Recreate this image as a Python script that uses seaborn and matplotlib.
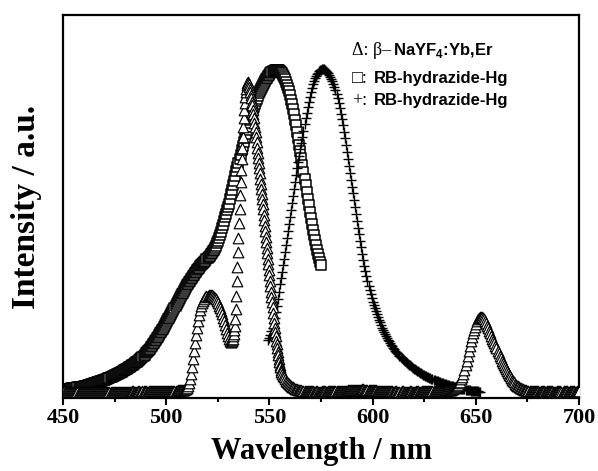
"""Upconversion emission / absorption / emission overlap plot."""
import numpy as np
import pandas as pd
import matplotlib
matplotlib.use("Agg")
import matplotlib.pyplot as plt
import seaborn as sns

# ---- data (normalised intensity) ----
# beta-NaYF4:Yb,Er upconversion emission (triangles)
tri_nm = np.concatenate([np.arange(450, 531.01, 0.5), np.arange(531.25, 556.01, 0.25),
                         np.arange(556.5, 700.01, 0.5)])
tri_val = [
    0.005, 0.005, 0.004, 0.004, 0.004, 0.003, 0.003, 0.004, 0.004, 0.003,  # 450
    0.003, 0.003, 0.003, 0.004, 0.004, 0.004, 0.003, 0.003, 0.003, 0.003,  # 455
    0.003, 0.004, 0.004, 0.003, 0.003, 0.003, 0.003, 0.004, 0.004, 0.003,  # 460
    0.003, 0.003, 0.003, 0.004, 0.004, 0.004, 0.004, 0.003, 0.003, 0.003,  # 465
    0.003, 0.004, 0.004, 0.003, 0.003, 0.004, 0.004, 0.004, 0.004, 0.003,  # 470
    0.003, 0.003, 0.003, 0.004, 0.004, 0.003, 0.003, 0.004, 0.004, 0.004,  # 475
    0.004, 0.003, 0.003, 0.004, 0.004, 0.004, 0.004, 0.005, 0.005, 0.004,  # 480
    0.004, 0.004, 0.004, 0.005, 0.005, 0.004, 0.004, 0.005, 0.005, 0.005,  # 485
    0.005, 0.004, 0.004, 0.005, 0.005, 0.005, 0.005, 0.006, 0.006, 0.005,  # 490
    0.005, 0.005, 0.005, 0.006, 0.006, 0.006, 0.006, 0.005, 0.005, 0.006,  # 495
    0.006, 0.006, 0.006, 0.007, 0.007, 0.006, 0.006, 0.007, 0.007, 0.007,  # 500
    0.007, 0.008, 0.008, 0.008, 0.008, 0.009, 0.009, 0.01, 0.011, 0.013,  # 505
    0.015, 0.021, 0.03, 0.043, 0.06, 0.081, 0.105, 0.13, 0.155, 0.178,  # 510
    0.2, 0.221, 0.24, 0.255, 0.268, 0.277, 0.285, 0.29, 0.295, 0.298,  # 515
    0.3, 0.302, 0.304, 0.303, 0.302, 0.3, 0.297, 0.293, 0.289, 0.283,  # 520
    0.277, 0.27, 0.262, 0.253, 0.244, 0.233, 0.222, 0.21, 0.198, 0.186,  # 525
    0.175, 0.167, 0.16,  # 530
    0.157, 0.157, 0.159, 0.163, 0.168, 0.175, 0.183, 0.193, 0.207, 0.228,  # 531.25
    0.26, 0.3, 0.345, 0.39, 0.435, 0.48, 0.525, 0.568, 0.61, 0.65,  # 533.75
    0.688, 0.724, 0.758, 0.79, 0.82, 0.848, 0.873, 0.895, 0.913, 0.928,  # 536.25
    0.94, 0.95, 0.956, 0.96, 0.958, 0.953, 0.946, 0.938, 0.93, 0.92,  # 538.75
    0.91, 0.9, 0.888, 0.875, 0.862, 0.848, 0.834, 0.82, 0.805, 0.79,  # 541.25
    0.774, 0.758, 0.742, 0.726, 0.71, 0.694, 0.678, 0.662, 0.646, 0.63,  # 543.75
    0.615, 0.6, 0.584, 0.568, 0.551, 0.534, 0.517, 0.5, 0.483, 0.466,  # 546.25
    0.449, 0.432, 0.415, 0.398, 0.381, 0.364, 0.347, 0.33, 0.313, 0.296,  # 548.75
    0.28, 0.264, 0.248, 0.232, 0.217, 0.202, 0.188, 0.175, 0.162, 0.15,  # 551.25
    0.138, 0.127, 0.116, 0.106, 0.096, 0.087, 0.079, 0.071, 0.064, 0.058,  # 553.75
    0.052, 0.048, 0.043, 0.038, 0.034, 0.03, 0.027, 0.024, 0.021, 0.019,  # 556.5
    0.017, 0.015, 0.013, 0.012, 0.011, 0.01, 0.009, 0.008, 0.008, 0.007,  # 561.5
    0.007, 0.006, 0.006, 0.006, 0.005, 0.005, 0.005, 0.005, 0.005, 0.005,  # 566.5
    0.004, 0.004, 0.005, 0.005, 0.004, 0.004, 0.004, 0.004, 0.005, 0.005,  # 571.5
    0.005, 0.005, 0.004, 0.004, 0.005, 0.005, 0.005, 0.005, 0.006, 0.006,  # 576.5
    0.005, 0.005, 0.005, 0.005, 0.006, 0.006, 0.006, 0.006, 0.006, 0.007,  # 581.5
    0.007, 0.007, 0.007, 0.008, 0.008, 0.008, 0.008, 0.009, 0.009, 0.009,  # 586.5
    0.009, 0.01, 0.01, 0.01, 0.01, 0.01, 0.01, 0.011, 0.011, 0.01,  # 591.5
    0.01, 0.01, 0.01, 0.009, 0.009, 0.009, 0.009, 0.008, 0.008, 0.008,  # 596.5
    0.008, 0.007, 0.007, 0.007, 0.007, 0.006, 0.006, 0.006, 0.006, 0.006,  # 601.5
    0.006, 0.005, 0.005, 0.005, 0.005, 0.005, 0.005, 0.004, 0.004, 0.005,  # 606.5
    0.005, 0.004, 0.004, 0.004, 0.004, 0.005, 0.005, 0.004, 0.004, 0.004,  # 611.5
    0.004, 0.004, 0.004, 0.005, 0.005, 0.004, 0.004, 0.004, 0.004, 0.005,  # 616.5
    0.005, 0.005, 0.004, 0.004, 0.004, 0.005, 0.005, 0.005, 0.005, 0.006,  # 621.5
    0.006, 0.005, 0.005, 0.006, 0.006, 0.006, 0.006, 0.005, 0.005, 0.006,  # 626.5
    0.006, 0.007, 0.007, 0.006, 0.006, 0.007, 0.007, 0.007, 0.008, 0.008,  # 631.5
    0.008, 0.009, 0.009, 0.01, 0.011, 0.012, 0.014, 0.016, 0.018, 0.021,  # 636.5
    0.025, 0.03, 0.035, 0.042, 0.05, 0.06, 0.072, 0.085, 0.1, 0.115,  # 641.5
    0.13, 0.145, 0.16, 0.173, 0.185, 0.196, 0.205, 0.214, 0.221, 0.227,  # 646.5
    0.232, 0.235, 0.236, 0.235, 0.232, 0.228, 0.222, 0.215, 0.208, 0.2,  # 651.5
    0.192, 0.184, 0.176, 0.168, 0.16, 0.153, 0.145, 0.138, 0.13, 0.122,  # 656.5
    0.115, 0.107, 0.1, 0.093, 0.087, 0.08, 0.074, 0.068, 0.062, 0.056,  # 661.5
    0.051, 0.046, 0.041, 0.037, 0.033, 0.029, 0.026, 0.023, 0.02, 0.018,  # 666.5
    0.016, 0.014, 0.012, 0.011, 0.01, 0.009, 0.008, 0.007, 0.007, 0.006,  # 671.5
    0.006, 0.006, 0.006, 0.005, 0.005, 0.005, 0.005, 0.005, 0.004, 0.004,  # 676.5
    0.005, 0.005, 0.005, 0.005, 0.004, 0.004, 0.005, 0.005, 0.005, 0.005,  # 681.5
    0.005, 0.005, 0.004, 0.004, 0.004, 0.004, 0.005, 0.005, 0.005, 0.005,  # 686.5
    0.004, 0.004, 0.005, 0.005, 0.005, 0.005, 0.004, 0.004, 0.005, 0.005,  # 691.5
    0.005, 0.005, 0.005, 0.004, 0.004, 0.005, 0.005, 0.005,  # 696.5
]

# RB-hydrazide-Hg absorption (squares)
sq_nm = np.arange(450, 575.01, 0.5)
sq_val = [
    0.010, 0.0105, 0.011, 0.0115, 0.012, 0.0125, 0.013, 0.0135, 0.014, 0.0145,  # 450
    0.015, 0.0155, 0.016, 0.0165, 0.017, 0.0175, 0.018, 0.0185, 0.019, 0.0195,  # 455
    0.020, 0.021, 0.022, 0.023, 0.024, 0.025, 0.026, 0.027, 0.028, 0.029,  # 460
    0.030, 0.031, 0.032, 0.033, 0.034, 0.035, 0.036, 0.037, 0.038, 0.039,  # 465
    0.040, 0.0415, 0.043, 0.0445, 0.046, 0.0475, 0.049, 0.0505, 0.052, 0.0535,  # 470
    0.055, 0.0565, 0.058, 0.0595, 0.061, 0.0625, 0.064, 0.066, 0.068, 0.0695,  # 475
    0.071, 0.073, 0.075, 0.077, 0.079, 0.081, 0.083, 0.085, 0.087, 0.0895,  # 480
    0.092, 0.0945, 0.097, 0.1, 0.103, 0.106, 0.109, 0.112, 0.115, 0.1185,  # 485
    0.122, 0.1255, 0.129, 0.133, 0.137, 0.1415, 0.146, 0.1505, 0.155, 0.1595,  # 490
    0.164, 0.169, 0.174, 0.179, 0.184, 0.189, 0.194, 0.199, 0.204, 0.2095,  # 495
    0.215, 0.221, 0.227, 0.233, 0.239, 0.245, 0.251, 0.257, 0.263, 0.269,  # 500
    0.275, 0.281, 0.287, 0.293, 0.299, 0.3045, 0.31, 0.3155, 0.321, 0.3265,  # 505
    0.332, 0.337, 0.342, 0.347, 0.352, 0.3565, 0.361, 0.3655, 0.37, 0.3745,  # 510
    0.379, 0.383, 0.387, 0.391, 0.395, 0.3985, 0.402, 0.4055, 0.409, 0.4125,  # 515
    0.416, 0.42, 0.424, 0.428, 0.432, 0.437, 0.442, 0.448, 0.455, 0.462,  # 520
    0.47, 0.479, 0.488, 0.498, 0.508, 0.519, 0.53, 0.542, 0.554, 0.566,  # 525
    0.575, 0.585, 0.6, 0.614, 0.628, 0.642, 0.656, 0.67, 0.684, 0.697,  # 530
    0.71, 0.723, 0.736, 0.749, 0.762, 0.775, 0.787, 0.799, 0.811, 0.822,  # 535
    0.833, 0.844, 0.854, 0.864, 0.874, 0.883, 0.892, 0.901, 0.909, 0.917,  # 540
    0.925, 0.932, 0.939, 0.946, 0.952, 0.958, 0.964, 0.969, 0.974, 0.979,  # 545
    0.983, 0.987, 0.99, 0.993, 0.995, 0.997, 0.998, 0.998, 0.997, 0.996,  # 550
    0.994, 0.991, 0.987, 0.982, 0.976, 0.969, 0.961, 0.952, 0.942, 0.931,  # 555
    0.919, 0.906, 0.892, 0.877, 0.861, 0.844, 0.826, 0.807, 0.787, 0.767,  # 560
    0.746, 0.725, 0.704, 0.683, 0.662, 0.641, 0.62, 0.6, 0.58, 0.56,  # 565
    0.541, 0.522, 0.504, 0.487, 0.471, 0.456, 0.442, 0.429, 0.417, 0.406,  # 570
    0.396,  # 575
]

# RB-hydrazide-Hg emission (plus)
pl_nm = np.arange(549.5, 652.01, 0.5)
pl_val = [
    0.163, 0.17, 0.18, 0.19, 0.202, 0.215, 0.232, 0.25, 0.27, 0.29,  # 549.5
    0.312, 0.335, 0.355, 0.375, 0.395, 0.415, 0.436, 0.458, 0.479, 0.5,  # 554.5
    0.521, 0.543, 0.564, 0.586, 0.608, 0.63, 0.651, 0.673, 0.694, 0.714,  # 559.5
    0.733, 0.752, 0.771, 0.79, 0.81, 0.83, 0.848, 0.865, 0.883, 0.9,  # 564.5
    0.915, 0.93, 0.943, 0.955, 0.964, 0.972, 0.979, 0.985, 0.989, 0.993,  # 569.5
    0.996, 0.998, 0.999, 1.0, 0.999, 0.998, 0.995, 0.992, 0.988, 0.983,  # 574.5
    0.977, 0.97, 0.963, 0.955, 0.945, 0.935, 0.923, 0.91, 0.895, 0.88,  # 579.5
    0.863, 0.845, 0.826, 0.806, 0.786, 0.765, 0.744, 0.723, 0.702, 0.68,  # 584.5
    0.659, 0.637, 0.616, 0.595, 0.573, 0.552, 0.531, 0.51, 0.49, 0.47,  # 589.5
    0.45, 0.43, 0.411, 0.393, 0.376, 0.36, 0.345, 0.33, 0.317, 0.305,  # 594.5
    0.293, 0.282, 0.272, 0.262, 0.252, 0.243, 0.234, 0.226, 0.218, 0.21,  # 599.5
    0.202, 0.195, 0.188, 0.182, 0.176, 0.17, 0.164, 0.159, 0.154, 0.149,  # 604.5
    0.144, 0.14,  # 609.5
    0.135, 0.131, 0.127, 0.123, 0.119, 0.115, 0.111, 0.108, 0.104, 0.101,  # 610.5
    0.098, 0.095, 0.0925, 0.09, 0.0875, 0.085, 0.0825, 0.08, 0.0775, 0.075,  # 615.5
    0.073, 0.071, 0.069, 0.067, 0.065, 0.063, 0.061, 0.059, 0.057, 0.055,  # 620.5
    0.0535, 0.052, 0.0505, 0.049, 0.0475, 0.046, 0.0445, 0.043, 0.0415, 0.04,  # 625.5
    0.0385, 0.037, 0.036, 0.035, 0.0335, 0.032, 0.031, 0.03, 0.029, 0.028,  # 630.5
    0.027, 0.026, 0.025, 0.024, 0.023, 0.022, 0.021, 0.02, 0.019, 0.018,  # 635.5
    0.017, 0.016, 0.0155, 0.015, 0.014, 0.013, 0.0125, 0.012, 0.011, 0.01,  # 640.5
    0.0095, 0.009, 0.0085, 0.008, 0.0075, 0.007, 0.0065, 0.006, 0.0055, 0.005,  # 645.5
    0.005, 0.005, 0.0045, 0.004,  # 650.5
]

x_ticks = [450, 500, 550, 600, 650, 700]

SERIF = "Liberation Serif"
SANS = "Liberation Sans"


def main() -> None:
    sns.set_style("ticks")
    plt.rcParams["font.family"] = [SERIF, "DejaVu Sans"]
    plt.rcParams["text.color"] = "black"
    plt.rcParams["xtick.color"] = "black"
    plt.rcParams["axes.labelcolor"] = "black"
    plt.rcParams["mathtext.fontset"] = "custom"
    plt.rcParams["mathtext.rm"] = f"{SANS}:bold"

    tri = pd.DataFrame({"nm": tri_nm, "val": tri_val})
    sq = pd.DataFrame({"nm": sq_nm, "val": sq_val})
    pl = pd.DataFrame({"nm": pl_nm, "val": pl_val})

    fig = plt.figure(figsize=(5.98, 4.71), dpi=100)
    ax = fig.add_axes([0.1054, 0.155, 0.8629, 0.813])

    sns.scatterplot(data=sq, x="nm", y="val", marker="s", s=46, color="white",
                    edgecolor="black", linewidth=1.1, ax=ax, zorder=2)
    sns.scatterplot(data=pl, x="nm", y="val", marker="+", s=60, color="black",
                    linewidth=1.0, ax=ax, zorder=3)
    sns.scatterplot(data=tri, x="nm", y="val", marker="^", s=58, color="white",
                    edgecolor="black", linewidth=0.85, ax=ax, zorder=4)

    ax.set_xlim(450, 700)
    ax.set_ylim(-0.0155, 1.167)
    ax.set_xticks(x_ticks)
    ax.set_xticks(np.arange(475, 700, 50), minor=True)
    ax.set_yticks([])
    ax.tick_params(axis="x", which="major", direction="out", length=5, width=1.5,
                   labelsize=16, pad=2, colors="black")
    ax.tick_params(axis="x", which="minor", direction="out", length=3, width=1.5)
    for lab in ax.get_xticklabels():
        lab.set_fontweight("bold")
    for sp in ax.spines.values():
        sp.set_visible(True)
        sp.set_linewidth(1.6)
        sp.set_color("black")

    ax.set_xlabel("Wavelength / nm", fontsize=22, fontweight="bold", labelpad=7)
    ax.set_ylabel("Intensity / a.u.", fontsize=24, fontweight="bold", labelpad=15)

    # legend-like annotation block
    sym_kw = dict(transform=ax.transAxes, fontsize=13, va="baseline",
                  family=[SERIF, "DejaVu Sans"], color="black")
    txt_kw = dict(transform=ax.transAxes, fontsize=12, va="baseline",
                  family=SANS, fontweight="bold", color="black")
    ax.text(0.560, 0.8956, "\u0394: \u03b2\u2013", **sym_kw)
    ax.text(0.6395, 0.8956, r"NaYF$_\mathrm{4}$:Yb,Er", **txt_kw)
    ax.text(0.560, 0.822, "\u25a1:", **sym_kw)
    ax.text(0.6027, 0.822, "RB-hydrazide-Hg", **txt_kw)
    ax.text(0.560, 0.765, "+:", **sym_kw)
    ax.text(0.6027, 0.765, "RB-hydrazide-Hg", **txt_kw)

    fig.savefig("out.png", dpi=100)
    plt.close(fig)


if __name__ == "__main__":
    main()
